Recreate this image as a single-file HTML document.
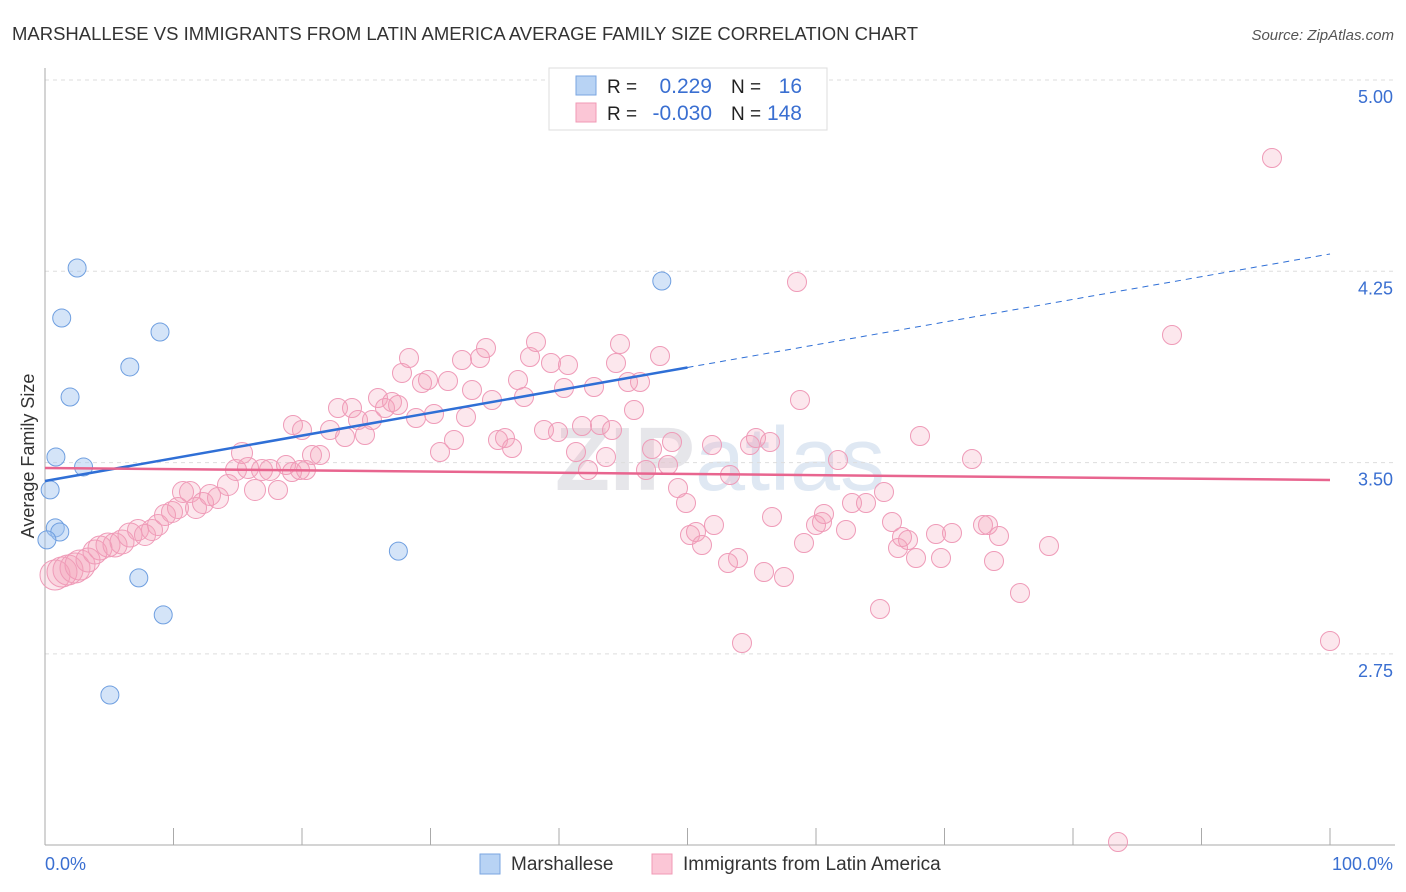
<!DOCTYPE html>
<html><head><meta charset="utf-8"><style>
body{margin:0;background:#fff;font-family:"Liberation Sans",sans-serif}
svg{display:block}
</style></head><body>
<svg id="chart" width="1406" height="892" xmlns="http://www.w3.org/2000/svg">
<text x="12" y="40" font-size="18" fill="#333" textLength="906" lengthAdjust="spacingAndGlyphs">MARSHALLESE VS IMMIGRANTS FROM LATIN AMERICA AVERAGE FAMILY SIZE CORRELATION CHART</text>
<text x="1394" y="40" font-size="15" fill="#555" font-style="italic" text-anchor="end">Source: ZipAtlas.com</text>
<text x="720" y="490" font-size="90" fill="#e6e6ea" text-anchor="middle" font-weight="bold">ZIP<tspan font-weight="normal" fill="#dfe8f3">atlas</tspan></text>
<g id="grid"></g>
<g id="axes"></g>
<g id="pink"></g>
<g id="blue"></g>
<g id="trends"></g>
<text transform="translate(34,456) rotate(-90)" font-size="18" fill="#333" text-anchor="middle">Average Family Size</text>
<text x="45" y="870" font-size="18" fill="#3a6fd1">0.0%</text>
<text x="1393" y="870" font-size="18" fill="#3a6fd1" text-anchor="end">100.0%</text>
<g>
<rect x="549" y="68" width="278" height="62" fill="#fff" stroke="#ddd"/>
<rect x="576" y="76" width="20" height="19" fill="#b8d3f4" stroke="#7aa6e0"/>
<rect x="576" y="103" width="20" height="19" fill="#fbc6d6" stroke="#f09ab5"/>
<text x="607" y="93" font-size="19" fill="#222">R =</text>
<text x="712" y="93" font-size="21" fill="#3a6fd1" text-anchor="end">0.229</text>
<text x="731" y="93" font-size="19" fill="#222">N =</text>
<text x="802" y="93" font-size="21" fill="#3a6fd1" text-anchor="end">16</text>
<text x="607" y="120" font-size="19" fill="#222">R =</text>
<text x="712" y="120" font-size="21" fill="#3a6fd1" text-anchor="end">-0.030</text>
<text x="731" y="120" font-size="19" fill="#222">N =</text>
<text x="802" y="120" font-size="21" fill="#3a6fd1" text-anchor="end">148</text>
</g>
<g>
<rect x="480" y="854" width="20" height="20" fill="#b8d3f4" stroke="#7aa6e0"/>
<text x="511" y="870" font-size="19" fill="#333">Marshallese</text>
<rect x="652" y="854" width="20" height="20" fill="#fbc6d6" stroke="#f09ab5"/>
<text x="683" y="870" font-size="19" fill="#333">Immigrants from Latin America</text>
</g>
</svg>
<script>
const yTicks=[5.00,4.25,3.50,2.75];
const yTickLabels=["5.00","4.25","3.50","2.75"];
const xTicks=[0,10,20,30,40,50,60,70,80,90,100];
const blueX=[2.5,1.3,8.95,6.6,1.95,0.85,3.0,0.4,0.8,1.15,0.15,27.5,7.3,9.2,5.05,48.0];
const blueY=[4.263,4.067,4.012,3.875,3.757,3.522,3.483,3.393,3.244,3.228,3.197,3.153,3.048,2.903,2.589,4.212];
const pinkPx=[55,62,68,75,80,88,95,100,108,115,122,130,138,145,152,158,165,172,178,183,190,196,203,210,218,228,236,242,248,255,262,270,278,286,292,300,306,312,320,293,302,330,338,345,352,358,365,372,378,385,392,398,402,409,416,422,428,434,440,448,454,462,466,472,480,486,492,498,505,512,518,524,530,536,544,551,558,564,568,576,582,588,594,600,606,612,616,620,628,634,640,646,652,660,668,672,678,686,690,696,702,712,714,728,730,738,742,750,756,764,770,772,784,797,800,804,816,822,824,838,846,852,866,880,884,892,898,902,908,916,920,936,941,952,972,983,988,994,999,1020,1049,1172,1272,1330,1118];
const pinkPy=[575,572,570,568,565,560,552,548,545,545,542,535,530,535,530,525,515,512,508,492,492,508,503,495,498,485,470,453,468,490,470,470,490,465,472,470,470,455,455,425,430,430,408,437,408,420,435,420,398,408,402,405,373,358,418,383,380,414,452,381,440,360,417,390,358,348,400,440,438,448,380,397,357,342,430,363,432,388,365,452,426,470,387,425,457,430,363,344,382,410,382,470,449,356,465,442,488,503,535,532,545,445,525,563,475,558,643,445,438,572,442,517,577,282,400,543,525,522,514,460,530,503,503,609,492,522,548,537,540,558,436,534,558,533,459,525,525,561,536,593,546,335,158,641,842];
const X0=45,X1=1330,YTOP=80,PXPERUNIT=255.07;
const sx=v=>X0+v*(X1-X0)/100;
const sy=v=>YTOP+(5-v)*PXPERUNIT;
const ns="http://www.w3.org/2000/svg";
function mk(tag,attrs,parent){const e=document.createElementNS(ns,tag);for(const k in attrs)e.setAttribute(k,attrs[k]);parent.appendChild(e);return e;}
const pinkX=pinkPx.map(p=>(p-X0)*100/(X1-X0));
const pinkY=pinkPy.map(p=>5-(p-YTOP)/PXPERUNIT);
const grid=document.getElementById('grid');
yTicks.forEach((t,i)=>{
 const l=mk('line',{x1:45,x2:1395,y1:sy(t),y2:sy(t),stroke:'#ddd','stroke-dasharray':'4,4'},grid);
 
 
 const tx=mk('text',{x:1393,y:sy(t)+23,'font-size':18,fill:'#3a6fd1','text-anchor':'end'},grid);
 tx.textContent=yTickLabels[i];
 
 
});
const axes=document.getElementById('axes');
mk('line',{x1:45,x2:45,y1:68,y2:845,stroke:'#aaa'},axes);
mk('line',{x1:45,x2:1395,y1:845,y2:845,stroke:'#aaa'},axes);
xTicks.forEach(t=>{
 const l=mk('line',{x1:sx(t),x2:sx(t),y1:828,y2:845,stroke:'#aaa'},axes);
 
 
});
const pg=document.getElementById('pink');
pinkX.forEach((x,i)=>{
 const r=x<3?15:(x<7?12:(x<18?10.5:9.5));
 const c=mk('circle',{cx:sx(x),cy:sy(pinkY[i]),r:r,fill:'rgba(245,160,185,0.25)',stroke:'#ef9bb8','stroke-width':1},pg);
 
 
});
const bg=document.getElementById('blue');
blueX.forEach((x,i)=>{
 const c=mk('circle',{cx:sx(x),cy:sy(blueY[i]),r:9,fill:'rgba(160,195,240,0.45)',stroke:'#6f9fe0','stroke-width':1},bg);
 
 
});
const tg=document.getElementById('trends');
const blueA=3.428,blueB=4.318,pinkA=3.479,pinkB=3.432;
const bl=v=>blueA+(blueB-blueA)*v/100;
let t1=mk('line',{x1:sx(0),y1:sy(bl(0)),x2:sx(50),y2:sy(bl(50)),stroke:'#2f6fd6','stroke-width':2.5},tg);


let t2=mk('line',{x1:sx(50),y1:sy(bl(50)),x2:sx(100),y2:sy(bl(100)),stroke:'#2f6fd6','stroke-width':1,'stroke-dasharray':'6,5'},tg);


let t3=mk('line',{x1:sx(0),y1:sy(pinkA),x2:sx(100),y2:sy(pinkB),stroke:'#e8658f','stroke-width':2.5},tg);


</script>
</body></html>
